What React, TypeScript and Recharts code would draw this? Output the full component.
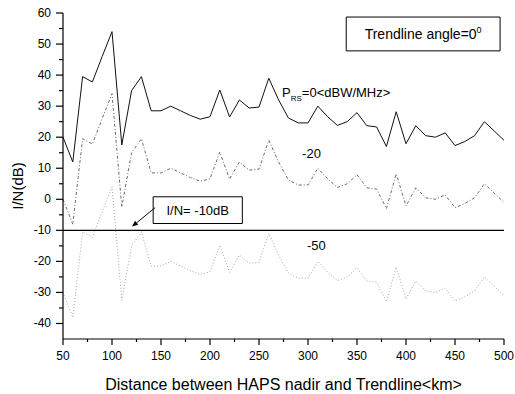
import {
  Label,
  Line,
  LineChart,
  ReferenceArea,
  ReferenceDot,
  ReferenceLine,
  XAxis,
  YAxis,
} from 'recharts'

const distanceKm = [
  50, 60, 70, 80, 90, 100, 110, 120, 130, 140, 150, 160, 170, 180, 190, 200, 210, 220, 230, 240,
  250, 260, 270, 280, 290, 300, 310, 320, 330, 340, 350, 360, 370, 380, 390, 400, 410, 420, 430,
  440, 450, 460, 470, 480, 490, 500,
]

// P_RS = 0 dBW/MHz
const prs0 = [
  20, 12, 39.5, 37.8, 46, 54, 17.5, 35, 39.5, 28.5, 28.5, 30, 28.5, 27, 25.8, 26.6, 35.2, 26.5, 32,
  29.4, 29.7, 39, 32, 26.2, 24.6, 24.6, 30, 26.6, 23.8, 25, 27.9, 23.7, 23.3, 17, 28.2, 17.9, 23.7,
  20.5, 20, 21.4, 17.3, 18.6, 20.5, 25, 22, 19,
]

// P_RS = -20
const prsM20 = [
  0, -8, 19.5, 17.8, 26, 34, -2.5, 15, 19.5, 8.5, 8.5, 10, 8.5, 7, 5.8, 6.6, 15.2, 6.5, 12, 9.4,
  9.7, 19, 12, 6.2, 4.6, 4.6, 10, 6.6, 3.8, 5, 7.9, 3.7, 3.3, -3, 8.2, -2.1, 3.7, 0.5, 0, 1.4, -2.7,
  -1.4, 0.5, 5, 2, -1,
]

// P_RS = -50
const prsM50 = [
  -30, -38, -10.5, -12.2, -4, 4, -32.5, -15, -10.5, -21.5, -21.5, -20, -21.5, -23, -24.2, -23.4,
  -14.8, -23.5, -18, -20.6, -20.3, -11, -18, -23.8, -25.4, -25.4, -20, -23.4, -26.2, -25, -22.1,
  -26.3, -26.7, -33, -21.8, -32.1, -26.3, -29.5, -30, -28.6, -32.7, -31.4, -29.5, -25, -28, -31,
]

const xTicks = [
  50, 75, 100, 125, 150, 175, 200, 225, 250, 275, 300, 325, 350, 375, 400, 425, 450, 475, 500,
]
const yTicks = [-40, -35, -30, -25, -20, -15, -10, -5, 0, 5, 10, 15, 20, 25, 30, 35, 40, 45, 50, 55, 60]

const rows = distanceKm.map((d, i) => ({ d, a: prs0[i], b: prsM20[i], c: prsM50[i] }))

const FONT = '"Liberation Sans", Arial, Helvetica, sans-serif'

const XTick = ({ x, y, payload }: any) => {
  const major = payload.value % 50 === 0
  return (
    <g>
      <line x1={x} x2={x} y1={y} y2={y + (major ? 6 : 3)} stroke="#000" strokeWidth={1.2} />
      {major ? (
        <text x={x} y={y + 21} textAnchor="middle" fontSize={12} fill="#000" fontFamily={FONT}>
          {payload.value}
        </text>
      ) : null}
    </g>
  )
}

const YTick = ({ x, y, payload }: any) => {
  const major = payload.value % 10 === 0
  return (
    <g>
      <line x1={x} x2={x - (major ? 7 : 4)} y1={y} y2={y} stroke="#000" strokeWidth={1.2} />
      {major ? (
        <text x={x - 12} y={y + 4} textAnchor="end" fontSize={12} fill="#000" fontFamily={FONT}>
          {payload.value}
        </text>
      ) : null}
    </g>
  )
}

const Arrow = (p: any) => {
  const { x1, y1, x2, y2 } = p
  const ang = Math.atan2(y2 - y1, x2 - x1)
  const L = 6
  const w = 2.5
  const bx = x2 - L * Math.cos(ang)
  const by = y2 - L * Math.sin(ang)
  const pts = `${x2},${y2} ${bx + w * Math.sin(ang)},${by - w * Math.cos(ang)} ${bx - w * Math.sin(ang)},${by + w * Math.cos(ang)}`
  return (
    <g>
      <line x1={x1} y1={y1} x2={bx} y2={by} stroke="#000" strokeWidth={1} />
      <polygon points={pts} fill="#000" />
    </g>
  )
}

const textAt = (content: (x: number, y: number) => any) => (props: any) => {
  const vb = props.viewBox || {}
  return content(vb.x ?? 0, vb.y ?? 0)
}

// y title sits a little below the middle of the axis in the original
const YTitle = (props: any) => {
  const vb = props.viewBox || {}
  const cx = (vb.x ?? 0) + 17
  const cy = (vb.y ?? 0) + (vb.height ?? 0) / 2 + 10
  return (
    <text
      x={cx}
      y={cy}
      transform={`rotate(-90, ${cx}, ${cy})`}
      textAnchor="middle"
      dominantBaseline="central"
      fontSize={15}
      fill="#000"
      fontFamily={FONT}
    >
      I/N(dB)
    </text>
  )
}

export default function App() {
  return (
    <div style={{ width: 515, height: 394, background: '#fff' }}>
      <style>{'body{margin:0;background:#fff}'}</style>
      <LineChart
        width={515}
        height={394}
        data={rows}
        margin={{ top: 13, right: 11, bottom: 0, left: 0 }}
        style={{ fontFamily: FONT }}
      >
        <XAxis
          dataKey="d"
          type="number"
          domain={[50, 500]}
          ticks={xTicks}
          interval={0}
          height={55}
          tickSize={0}
          tickMargin={0}
          tickLine={false}
          tick={<XTick />}
          axisLine={{ stroke: '#000', strokeWidth: 1.2 }}
        >
          <Label
            value="Distance between HAPS nadir and Trendline<km>"
            position="insideBottom"
            offset={4}
            fontSize={16}
            fill="#000"
            fontFamily={FONT}
          />
        </XAxis>
        <XAxis
          xAxisId="top"
          orientation="top"
          type="number"
          domain={[50, 500]}
          height={0}
          tick={false}
          tickLine={false}
          axisLine={{ stroke: '#000', strokeWidth: 1.2 }}
        />
        <YAxis
          type="number"
          domain={[-45, 60]}
          ticks={yTicks}
          interval={0}
          width={63}
          tickSize={0}
          tickMargin={0}
          tickLine={false}
          tick={<YTick />}
          axisLine={{ stroke: '#000', strokeWidth: 1.2 }}
        >
          <Label content={<YTitle />} />
        </YAxis>
        <YAxis
          yAxisId="right"
          orientation="right"
          type="number"
          domain={[-45, 60]}
          width={0}
          tick={false}
          tickLine={false}
          axisLine={{ stroke: '#000', strokeWidth: 1.2 }}
        />

        <ReferenceLine y={-10} stroke="#000" strokeWidth={1.4} />

        <Line
          dataKey="c"
          stroke="#a8a8a8"
          strokeWidth={1}
          strokeDasharray="1 2"
          dot={false}
          isAnimationActive={false}
        />
        <Line
          dataKey="b"
          stroke="#6a6a6a"
          strokeWidth={1}
          strokeDasharray="3 2 1 2"
          dot={false}
          isAnimationActive={false}
        />
        <Line dataKey="a" stroke="#111" strokeWidth={1} dot={false} isAnimationActive={false} />

        <ReferenceArea
          x1={142}
          x2={233}
          y1={-7.8}
          y2={0.8}
          fill="#fff"
          fillOpacity={1}
          stroke="#000"
          strokeWidth={1}
          label={{ value: 'I/N= -10dB', position: 'center', fontSize: 13, fill: '#000', fontFamily: FONT }}
        />
        <ReferenceLine
          segment={[
            { x: 144, y: -2.7 },
            { x: 120.4, y: -8.8 },
          ]}
          shape={<Arrow />}
          ifOverflow="visible"
        />

        <ReferenceArea
          x1={339}
          x2={496}
          y1={47.8}
          y2={58.7}
          fill="#fff"
          fillOpacity={1}
          stroke="#000"
          strokeWidth={1}
          label={(props: any) => {
            const { x, y, width, height } = props.viewBox
            return (
              <text
                x={x + width / 2}
                y={y + height / 2 + 5}
                textAnchor="middle"
                fontSize={14}
                fill="#000"
                fontFamily={FONT}
              >
                Trendline angle=0
                <tspan fontSize={9} dy={-6}>
                  0
                </tspan>
              </text>
            )
          }}
        />

        <ReferenceDot
          x={273.5}
          y={33}
          r={0}
          fill="none"
          stroke="none"
          label={textAt((x, y) => (
            <text x={x} y={y} fontSize={13} fill="#000" fontFamily={FONT}>
              P
              <tspan fontSize={8} dy={4}>
                RS
              </tspan>
              <tspan fontSize={13} dy={-4}>
                =0&lt;dBW/MHz&gt;
              </tspan>
            </text>
          ))}
        />
        <ReferenceDot
          x={294}
          y={13.4}
          r={0}
          fill="none"
          stroke="none"
          label={textAt((x, y) => (
            <text x={x} y={y} fontSize={13} fill="#000" fontFamily={FONT}>
              -20
            </text>
          ))}
        />
        <ReferenceDot
          x={299}
          y={-16.2}
          r={0}
          fill="none"
          stroke="none"
          label={textAt((x, y) => (
            <text x={x} y={y} fontSize={13} fill="#000" fontFamily={FONT}>
              -50
            </text>
          ))}
        />
      </LineChart>
    </div>
  )
}
